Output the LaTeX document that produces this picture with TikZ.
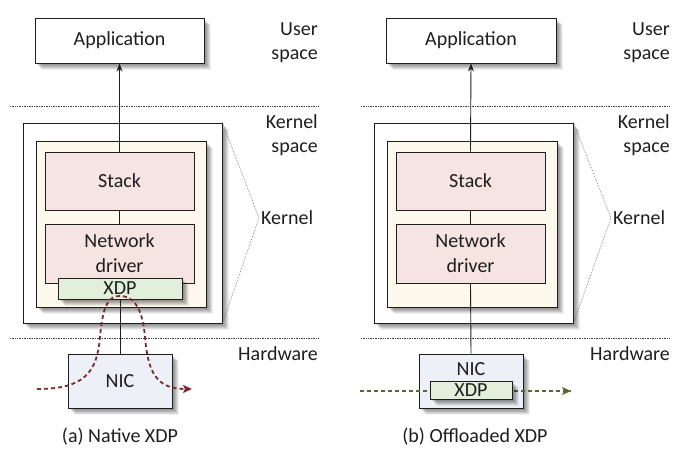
\documentclass[tikz,border=0pt]{standalone}
\usepackage{fontspec}
\setmainfont{Carlito}
\usetikzlibrary{arrows.meta}
\definecolor{cream}{HTML}{FDF9EC}
\definecolor{pinkbox}{HTML}{F5E4E1}
\definecolor{xdpgreen}{HTML}{E2EFDA}
\definecolor{nicblue}{HTML}{EEF0F8}
\definecolor{redpath}{HTML}{7B2C2C}
\definecolor{greenpath}{HTML}{55692B}
\definecolor{ink}{HTML}{1E1E1E}
\tikzset{
  box/.style={draw=ink, line width=0.9pt, rectangle, inner sep=0pt, align=center,
    font=\fontsize{20}{25}\selectfont, text=ink},
  shad/.style={
    preaction={fill=black, fill opacity=0.09, transform canvas={xshift=1.5pt,yshift=-2pt}},
    preaction={fill=black, fill opacity=0.09, transform canvas={xshift=2.5pt,yshift=-3pt}},
    preaction={fill=black, fill opacity=0.09, transform canvas={xshift=3.5pt,yshift=-4pt}},
    preaction={fill=black, fill opacity=0.09, transform canvas={xshift=4.5pt,yshift=-5pt}},
    preaction={fill=black, fill opacity=0.08, transform canvas={xshift=5.5pt,yshift=-6pt}},
    preaction={fill=black, fill opacity=0.06, transform canvas={xshift=6.5pt,yshift=-7pt}}},
  lbl/.style={font=\fontsize{20}{24}\selectfont, text=ink, align=right, inner sep=0pt},
  sep/.style={densely dotted, line width=0.7pt, draw=black!75},
  brk/.style={densely dotted, line width=0.6pt, draw=black!60},
  conn/.style={draw=ink, line width=0.9pt},
  redflow/.style={draw=redpath, line width=1.8pt, dash pattern=on 4pt off 3pt,
    -{Stealth[length=9pt,width=8pt,inset=2pt]}},
  greenflow/.style={draw=greenpath, line width=1.5pt, dash pattern=on 4pt off 3pt},
}
\begin{document}
\begin{tikzpicture}[x=1pt,y=-1pt]
\useasboundingbox (0,0) rectangle (681,450);
% ---------- left panel ----------
\node[box, shad, fill=white, minimum width=169pt, minimum height=45pt] (appA) at (119.5,40.5) {Application};
\node[box, shad, fill=white, minimum width=199pt, minimum height=200pt] (outA) at (122.5,223) {};
\node[box, shad, fill=cream, minimum width=170pt, minimum height=166pt] (creamA) at (121,224) {};
\node[box, fill=pinkbox, minimum width=149pt, minimum height=58pt] (stackA) at (119.5,181) {Stack};
\node[box, fill=pinkbox, minimum width=149pt, minimum height=59pt] (drvA) at (119.5,253.5) {Network\\driver};
\node[box, shad, fill=xdpgreen, minimum width=124pt, minimum height=21pt] (xdpA) at (120,288.5) {XDP};
\node[box, shad, fill=nicblue, minimum width=104pt, minimum height=54pt] (nicA) at (120,381) {NIC};
\draw[conn, -{Stealth[length=8pt,width=6pt]}] (stackA.north) -- (appA.south);
\draw[conn] (stackA.south) -- (drvA.north);
\draw[conn] (xdpA.south) -- (nicA.north);
\coordinate (sepA1l) at (10,106); \coordinate (sepA1r) at (318,106);
\coordinate (sepA2l) at (10,338); \coordinate (sepA2r) at (318,338);
\draw[sep] (sepA1l) -- (sepA1r);
\draw[sep] (sepA2l) -- (sepA2r);
\node[lbl, anchor=east] (userA) at (318,43) {User\\space};
\node[lbl, anchor=east] (kspA) at (318,135) {Kernel\\space};
\node[lbl, anchor=west] (kerA) at (261,218) {Kernel};
\node[lbl, anchor=east] (hwA) at (318,354) {Hardware};
\coordinate (tipA) at (259,218);
\draw[brk] (outA.north east) -- (tipA) -- (outA.south east);
\coordinate (rinA) at (37,389);
\coordinate (routA) at (192,389);
\draw[redflow] (rinA) .. controls (85,389) and (97,372) .. (100,337)
  .. controls (103,302) and (110,296) .. (120,296)
  .. controls (130,296) and (142,302) .. (145,337)
  .. controls (148,372) and (156,389) .. (routA);
\node[lbl, align=center] (capA) at (120,437) {(a) Native XDP};
% ---------- right panel ----------
\node[box, shad, fill=white, minimum width=170pt, minimum height=45pt] (appB) at (471,40.5) {Application};
\node[box, shad, fill=white, minimum width=199pt, minimum height=200pt] (outB) at (473.5,223) {};
\node[box, shad, fill=cream, minimum width=170pt, minimum height=166pt] (creamB) at (472,224) {};
\node[box, fill=pinkbox, minimum width=149pt, minimum height=58pt] (stackB) at (470.5,181) {Stack};
\node[box, fill=pinkbox, minimum width=149pt, minimum height=59pt] (drvB) at (470.5,253.5) {Network\\driver};
\node[box, shad, fill=nicblue, minimum width=104pt, minimum height=54pt] (nicB) at (471,381) {};
\node[lbl, align=center] (nicBt) at (471,369) {NIC};
\draw[conn, -{Stealth[length=8pt,width=6pt]}] (stackB.north) -- (appB.south);
\draw[conn] (stackB.south) -- (drvB.north);
\draw[conn] (drvB.south) -- (nicB.north);
\coordinate (ginB) at (360,391);
\coordinate (goutB) at (571,391);
\draw[greenflow] (ginB) -- (goutB);
\fill[greenpath] (goutB) -- ++(-9,-4) -- ++(2,4) -- ++(-2,4) -- cycle;
\node[box, shad, fill=xdpgreen, minimum width=82pt, minimum height=18pt] (xdpB) at (471,390) {XDP};
\coordinate (sepB1l) at (361,106); \coordinate (sepB1r) at (669,106);
\coordinate (sepB2l) at (361,338); \coordinate (sepB2r) at (669,338);
\draw[sep] (sepB1l) -- (sepB1r);
\draw[sep] (sepB2l) -- (sepB2r);
\node[lbl, anchor=east] (userB) at (670,43) {User\\space};
\node[lbl, anchor=east] (kspB) at (670,135) {Kernel\\space};
\node[lbl, anchor=west] (kerB) at (613,218) {Kernel};
\node[lbl, anchor=east] (hwB) at (670,354) {Hardware};
\coordinate (tipB) at (611,218);
\draw[brk] (outB.north east) -- (tipB) -- (outB.south east);
\node[lbl, align=center] (capB) at (475,437) {(b) Offloaded XDP};
\end{tikzpicture}
\end{document}
